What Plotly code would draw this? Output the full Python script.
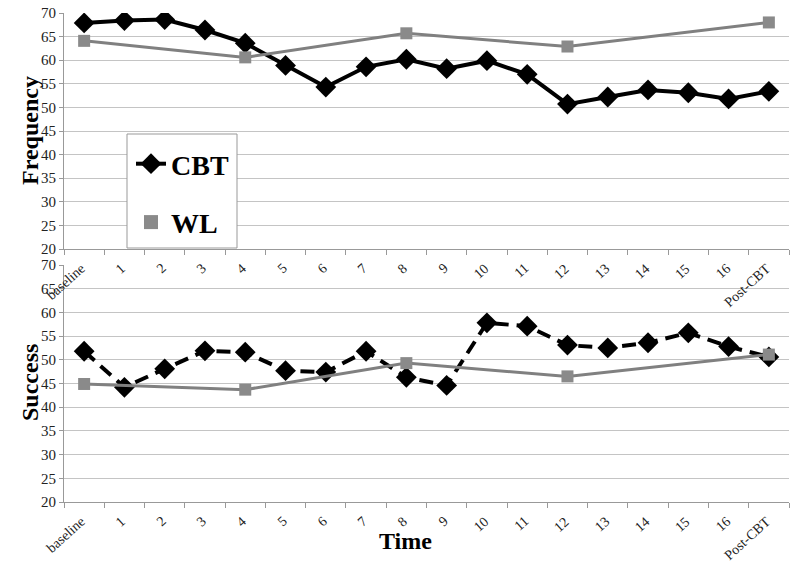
import plotly.graph_objects as go

categories = ["baseline"] + [str(i) for i in range(1, 17)] + ["Post-CBT"]
wl_categories = ["baseline", "4", "8", "12", "Post-CBT"]

cbt_frequency = [67.9, 68.4, 68.6, 66.4, 63.6, 58.9, 54.3, 58.6, 60.2, 58.2,
                 59.9, 57.0, 50.7, 52.2, 53.7, 53.1, 51.8, 53.4]
wl_frequency = [64.1, 60.6, 65.7, 62.9, 68.0]

cbt_success = [51.8, 44.2, 48.1, 51.9, 51.6, 47.7, 47.4, 51.8, 46.3, 44.6,
               57.8, 57.1, 53.1, 52.5, 53.6, 55.7, 52.8, 50.6]
wl_success = [44.9, 43.7, 49.3, 46.5, 51.1]

FONT = "Liberation Serif"
BLACK = "#000000"
GRAY_LINE = "#808080"
GRAY_MARK = "#8a8a8a"
YMIN, YMAX = 20, 70

# category positions on a numeric axis (ticks at category boundaries)
cat_idx = list(range(len(categories)))
wl_idx = [categories.index(c) for c in wl_categories]
boundaries = [i - 0.5 for i in range(len(categories) + 1)]

# page body margin is removed by the post script, so the figure fills the window
W, H = 800, 571
L, R, T, B = 64, 11, 13, 69
PW = W - L - R
PH = H - T - B


def px(xpix):
    return (xpix - L) / PW


def py(ypix):
    return (H - B - ypix) / PH


fig = go.Figure()

fig.add_trace(go.Scatter(x=cat_idx, y=cbt_frequency, mode="lines+markers",
                         line=dict(color=BLACK, width=4),
                         marker=dict(symbol="diamond", size=16, color=BLACK),
                         xaxis="x", yaxis="y", showlegend=False))
fig.add_trace(go.Scatter(x=wl_idx, y=wl_frequency, mode="lines+markers",
                         line=dict(color=GRAY_LINE, width=3),
                         marker=dict(symbol="square", size=12, color=GRAY_MARK),
                         xaxis="x", yaxis="y", showlegend=False))

fig.add_trace(go.Scatter(x=cat_idx, y=cbt_success, mode="lines+markers",
                         line=dict(color=BLACK, width=4, dash="14px,8px"),
                         marker=dict(symbol="diamond", size=16, color=BLACK),
                         xaxis="x2", yaxis="y2", showlegend=False))
fig.add_trace(go.Scatter(x=wl_idx, y=wl_success, mode="lines+markers",
                         line=dict(color=GRAY_LINE, width=3),
                         marker=dict(symbol="square", size=12, color=GRAY_MARK),
                         xaxis="x2", yaxis="y2", showlegend=False))

fig.add_trace(go.Scatter(x=[None], y=[None], mode="lines+markers", name="<b>CBT</b>",
                         line=dict(color=BLACK, width=4),
                         marker=dict(symbol="diamond", size=16, color=BLACK),
                         legendgroup="a"))
fig.add_trace(go.Scatter(x=[None], y=[None], mode="markers", name="<b>WL</b>",
                         marker=dict(symbol="square", size=14, color=GRAY_MARK),
                         legendgroup="b"))

xcommon = dict(type="linear", range=[-0.5, len(categories) - 0.5],
               tickmode="array", tickvals=cat_idx, ticktext=categories,
               showticklabels=False,
               showgrid=False, showline=True, linecolor="#999", linewidth=1,
               ticks="",
               minor=dict(tickmode="array", tickvals=boundaries, ticks="outside",
                          ticklen=5, tickcolor="#999", showgrid=False),
               zeroline=False, automargin=False)
ycommon = dict(range=[YMIN, YMAX], dtick=5, showgrid=True, gridcolor="#c4c4c4", gridwidth=1,
               showline=True, linecolor="#999", linewidth=1, ticks="outside",
               ticklen=4, tickcolor="#999", automargin=False,
               ticklabeloverflow="allow",
               tickfont=dict(family=FONT, size=15, color="#222"), zeroline=False)

title_font = dict(family=FONT, size=24, color=BLACK)

annotations = [
    dict(text="<b>Frequency</b>", xref="paper", yref="paper",
         x=px(30), y=py(131), textangle=-90,
         showarrow=False, font=title_font, xanchor="center", yanchor="middle"),
    dict(text="<b>Success</b>", xref="paper", yref="paper",
         x=px(30), y=py(383), textangle=-90,
         showarrow=False, font=title_font, xanchor="center", yanchor="middle"),
    dict(text="<b>Time</b>", xref="paper", yref="paper",
         x=px(405), y=py(541),
         showarrow=False, font=title_font, xanchor="center", yanchor="middle"),
]

# rotated category labels under each panel
for xr, yr in (("x", "y"), ("x2", "y2")):
    for i, lab in zip(cat_idx, categories):
        annotations.append(dict(
            text=lab, xref=xr, yref=yr, x=i, y=YMIN, textangle=-42,
            showarrow=False, xanchor="right", yanchor="top",
            xshift=7, yshift=-9,
            font=dict(family=FONT, size=14, color="#222")))

fig.update_layout(
    width=W, height=H,
    margin=dict(l=L, r=R, t=T, b=B, autoexpand=False),
    paper_bgcolor="white", plot_bgcolor="white",
    xaxis=dict(**xcommon, anchor="y", domain=[0, 1]),
    yaxis=dict(**ycommon, domain=[py(249), 1.0]),
    xaxis2=dict(**xcommon, anchor="y2", domain=[0, 1]),
    yaxis2=dict(**ycommon, domain=[0.0, py(265)]),
    legend=dict(x=px(131), y=py(139), xanchor="left", yanchor="top",
                bgcolor="rgba(0,0,0,0)", borderwidth=0,
                font=dict(family=FONT, size=28, color=BLACK),
                tracegroupgap=19, itemwidth=30),
    shapes=[dict(type="rect", xref="paper", yref="paper",
                 x0=px(127), x1=px(237), y0=py(248), y1=py(134),
                 fillcolor="white", line=dict(color="#999", width=1), layer="above")],
    annotations=annotations,
)

fig.write_html("out.html",
               config={"displayModeBar": False},
               post_script="document.body.style.margin='0px';document.body.style.overflow='hidden';")
